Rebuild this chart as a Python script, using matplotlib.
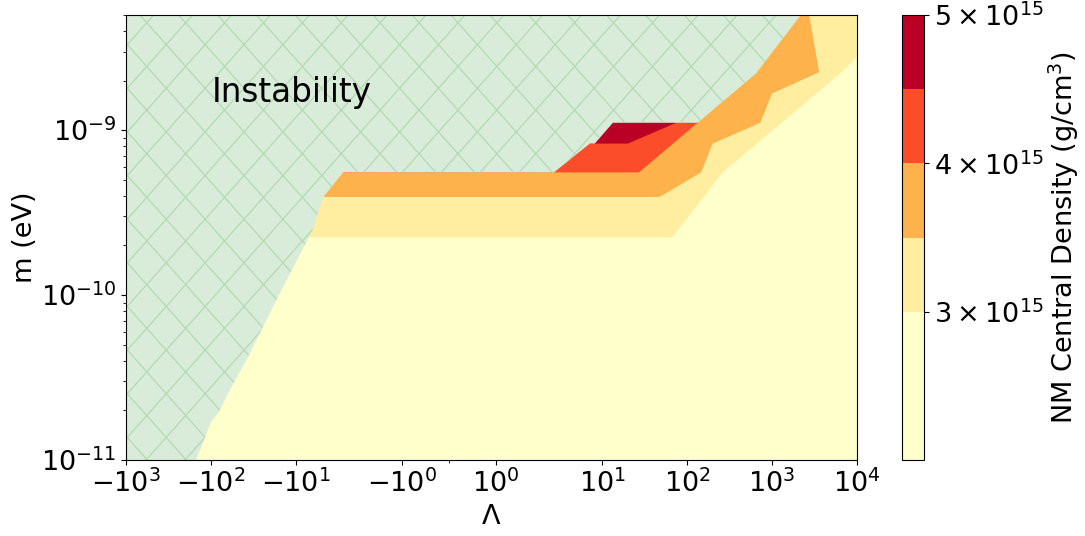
import numpy as np
import matplotlib.pyplot as plt
from matplotlib.colors import ListedColormap, BoundaryNorm
from matplotlib.cm import ScalarMappable
from matplotlib.collections import LineCollection
from matplotlib.ticker import FixedLocator, FuncFormatter

# density levels of the colour bands (g/cm^3)
levels = [2.0e15, 3.0e15, 3.5e15, 4.0e15, 4.5e15, 5.0e15]
cbar_ticks = [3e15, 4e15, 5e15]

lam_lim = (-1e3, 1e4)
m_lim = (1e-11, 5e-9)

# lower/right edge of each band: the region above the curve has rho >= level
lam_2p0 = [-1e3, 1e4]
m_2p0 = [1e-11, 1e-11]
lam_3p0 = [-1e3, 66.7, 262, 6670, 1e4]
m_3p0 = [2.24e-10, 2.24e-10, 5.55e-10, 2.25e-9, 2.78e-9]
lam_3p5 = [-1e3, 47.3, 146, 200, 730, 1002, 3604, 2749]
m_3p5 = [3.94e-10, 3.94e-10, 5.55e-10, 8.3e-10, 1.11e-9, 1.67e-9, 2.25e-9, 5e-9]
lam_4p0 = [-1e3, 27, 133]
m_4p0 = [5.55e-10, 5.55e-10, 1.11e-9]
lam_4p5 = [-1e3, 20, 74.3]
m_4p5 = [8.3e-10, 8.3e-10, 1.11e-9]

# edge of the unstable region (no stable star above/left of it)
lam_unstable = [-150, -131, -99.8, -80.4, -61.4, -53.6, -37, -18.8, -13.1, -7.28,
                -6.3, -4.7, -2.74, 2.68, 7.1, 8.13, 13.3, 133, 649, 2196]
m_unstable = [1e-11, 1.18e-11, 1.7e-11, 1.95e-11, 2.58e-11, 2.93e-11, 4.15e-11, 8.34e-11,
              1.2e-10, 2.15e-10, 2.48e-10, 3.93e-10, 5.56e-10, 5.55e-10, 8.3e-10, 8.3e-10,
              1.11e-9, 1.11e-9, 2.21e-9, 5e-9]

band_colors = plt.cm.YlOrRd([0.0, 0.125, 0.375, 0.625, 0.875])

fig = plt.figure(figsize=(10.85, 5.36), dpi=100)
ax = fig.add_axes([126 / 1085, 76 / 536, 730.7 / 1085, 445 / 536])
cax = fig.add_axes([902 / 1085, 76 / 536, 22 / 1085, 445 / 536])

ax.set_xscale('symlog', linthresh=2)
ax.set_yscale('log')


def fill_band(lam, m, color):
    # close the curve through the top-left corner of the plot
    xs = list(lam) + [lam[-1], lam_lim[0]]
    ys = list(m) + [m_lim[1], m_lim[1]]
    ax.fill(xs, ys, color=color, lw=0, zorder=1)


bands = [(lam_2p0, m_2p0), (lam_3p0, m_3p0), (lam_3p5, m_3p5), (lam_4p0, m_4p0), (lam_4p5, m_4p5)]
for (lam, m), c in zip(bands, band_colors):
    fill_band(lam, m, c)

# instability region: light green with a cross hatch
xs = list(lam_unstable) + [lam_lim[0], lam_lim[0]]
ys = list(m_unstable) + [m_lim[1], m_lim[0]]
unstable = ax.fill(xs, ys, color='#d9ebd9', lw=0, zorder=2)[0]

W, H = 730.7, 445.0   # axes size in pixels
step = 38.9
segs = []
for c in np.arange(-W - H, W + H, step) + 10.0:
    # "/" and "\" lines through the same points on the top edge
    segs.append([((c - H) / W - 2, -1 - 2 * W / H + 1), ((c - H) / W + 3, 1 + 3 * W / H)])
    segs.append([((c + H) / W + 2, -2 * W / H), ((c + H) / W - 3, 1 + 3 * W / H)])
hatch = LineCollection(segs, colors='#b4d9b4', linewidths=0.9, transform=ax.transAxes, zorder=2.1)
ax.add_collection(hatch)
hatch.set_clip_path(unstable)

ax.text(0.117, 0.805, 'Instability', transform=ax.transAxes, fontsize=23.5,
        ha='left', va='baseline', zorder=4)

ax.set_xlim(lam_lim)
ax.set_ylim(m_lim)

ax.xaxis.set_major_locator(FixedLocator([-1e3, -1e2, -1e1, -1, 1, 1e1, 1e2, 1e3, 1e4]))
ax.xaxis.set_minor_locator(FixedLocator([0]))


def sym_fmt(v, pos):
    e = int(round(np.log10(abs(v))))
    if v < 0:
        return r'$\mathdefault{-10^{%d}}$' % e
    return r'$\mathdefault{10^{%d}}$' % e


ax.xaxis.set_major_formatter(FuncFormatter(sym_fmt))
ax.tick_params(labelsize=19.5)
ax.set_xlabel(r'$\Lambda$', fontsize=19.5)
ax.set_ylabel('m (eV)', fontsize=19.5, labelpad=2)

cmap = ListedColormap(band_colors)
norm = BoundaryNorm(levels, cmap.N)
cb = fig.colorbar(ScalarMappable(norm=norm, cmap=cmap), cax=cax,
                  spacing='proportional', ticks=cbar_ticks)
cb.ax.yaxis.set_major_formatter(
    FuncFormatter(lambda v, p: r'$\mathdefault{%d\times10^{15}}$' % round(v / 1e15)))
cb.ax.minorticks_off()
cb.ax.tick_params(labelsize=19.5)
cb.set_label('NM Central Density (g/cm$^3$)', fontsize=19.5, labelpad=2)

fig.savefig('out.png', dpi=100)
